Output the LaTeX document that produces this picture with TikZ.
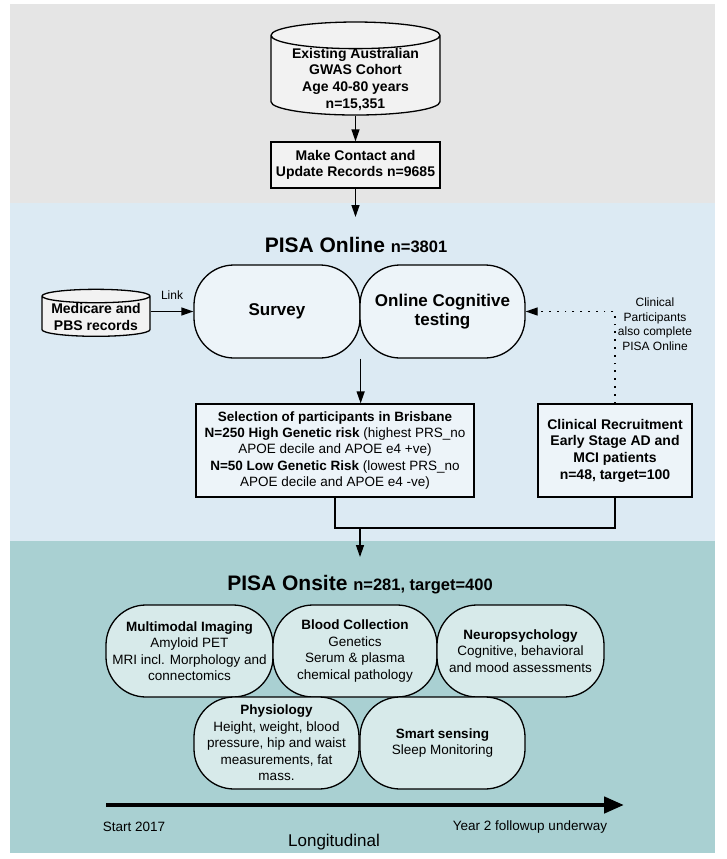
\documentclass[tikz,border=0pt]{standalone}
\usepackage{fontspec}
\setmainfont{Liberation Sans}
\usetikzlibrary{shapes.geometric,arrows.meta}

\definecolor{panelgray}{HTML}{E5E5E5}
\definecolor{nodegray}{HTML}{F2F2F2}
\definecolor{panelblue}{HTML}{DCEAF3}
\definecolor{nodeblue}{HTML}{EDF4F9}
\definecolor{panelteal}{HTML}{A9D0D2}
\definecolor{nodeteal}{HTML}{D7EAEA}

% text of a drum sits low, under the lid
\newcommand{\sunk}[2]{\raisebox{-#1}[0pt][0pt]{\begin{tabular}{@{}c@{}}#2\end{tabular}}}

\begin{document}
\begin{tikzpicture}[x=1pt,y=-1pt]
    \tikzstyle{box}=[rectangle,draw,line width=1.3pt,align=center,inner sep=0pt]
    \tikzstyle{drum}=[cylinder,shape border rotate=90,draw,line width=1.3pt,inner sep=0pt]
    \tikzstyle{blob}=[rectangle,rounded corners=40pt,draw,line width=1.3pt,align=center,inner sep=0pt]
    \tikzstyle{arr}=[line width=1.3pt,-{Triangle[length=12pt,width=8pt]}]
    \tikzstyle{big}=[font=\fontsize{14}{16.7}\selectfont\bfseries]
    \tikzstyle{mid}=[font=\fontsize{13.5}{16.5}\selectfont]
    \tikzstyle{small}=[font=\fontsize{12}{14.5}\selectfont]

   \useasboundingbox (0,0) rectangle (726,859);

   % the three stages
   \fill [panelgray] (10,4) rectangle (715,203);
   \fill [panelblue] (10,203) rectangle (715,541);
   \fill [panelteal] (10,541) rectangle (715,853);

   % cohort
   \node [drum,big,fill=nodegray,minimum width=169pt,minimum height=93pt,aspect=0.21] (gwas) at (355.5,75.5)
      {\sunk{8pt}{Existing Australian\\GWAS Cohort\\Age 40-80 years\\n=15,351}};
   \node [box,big,fill=nodegray,minimum width=169pt,minimum height=46pt] (contact) at (355.5,165)
      {Make Contact and\\Update Records n=9685};
   \coordinate (onlinein) at (355.5,217);

   \draw [arr] (gwas.south) -- (contact.north);
   \draw [arr] (contact.south) -- (onlinein);

   % PISA online
   \node (onlinetitle) at (356,245) {\fontsize{21}{24}\selectfont\bfseries PISA Online
      \fontsize{16.5}{20}\selectfont n=3801};
   \node [drum,big,fill=nodegray,minimum width=108pt,minimum height=47pt,aspect=0.15] (medicare) at (96,316.5)
      {\sunk{5.5pt}{Medicare and\\PBS records}};
   \node [blob,fill=nodeblue,minimum width=166pt,minimum height=93pt,font=\fontsize{17}{19}\selectfont\bfseries] (survey) at (277,311.5) {Survey};
   \node [blob,fill=nodeblue,minimum width=165pt,minimum height=93pt,font=\fontsize{17}{19}\selectfont\bfseries] (online) at (442.5,311.5)
      {Online Cognitive\\testing};

   \node [box,mid,fill=nodeblue,minimum width=278pt,minimum height=93pt] (sel) at (335,450.5)
      {\textbf{Selection of participants in Brisbane}\\
       \textbf{N=250 High Genetic risk} (highest PRS\_no\\
       APOE decile and APOE e4 +ve)\\
       \textbf{N=50 Low Genetic Risk} (lowest PRS\_no\\
       APOE decile and APOE e4 -ve)};
   \node [box,big,fill=nodeblue,minimum width=154pt,minimum height=93pt] (clin) at (615,450.5)
      {Clinical Recruitment\\Early Stage AD and\\MCI patients\\n=48, target=100};
   \node [small,align=center] (clinnote) at (655,324)
      {Clinical\\Participants\\also complete\\PISA Online};

   \draw [arr] (medicare.east |- survey.west) -- (survey.west)
      node [small,midway,above=8pt] {Link};
   \draw [arr] (survey.south east) -- (survey.south east |- sel.north);
   \draw [arr,dash pattern=on 1.8pt off 6pt] (clin.north) |- (online.east);

   \coordinate (join) at (360,528);
   \coordinate (onsitein) at (360,557);
   \draw [line width=1.3pt] (sel.south) |- (join) -| (clin.south);
   \draw [arr] (join) -- (onsitein);

   % PISA onsite
   \node (onsitetitle) at (360,585) {\fontsize{21}{24}\selectfont\bfseries PISA Onsite
      \fontsize{16.5}{20}\selectfont n=281, target=400};
   \node [blob,mid,fill=nodeteal,minimum width=167pt,minimum height=92pt] (imaging) at (189.5,651)
      {\textbf{Multimodal Imaging}\\Amyloid PET\\MRI incl. Morphology and\\connectomics};
   \node [blob,mid,fill=nodeteal,minimum width=164pt,minimum height=92pt] (blood) at (355,651)
      {\textbf{Blood Collection}\\Genetics\\Serum \& plasma\\chemical pathology};
   \node [blob,mid,fill=nodeteal,minimum width=167pt,minimum height=92pt] (neuro) at (520.5,651)
      {\textbf{Neuropsychology}\\Cognitive, behavioral\\and mood assessments};
   \node [blob,mid,fill=nodeteal,minimum width=165pt,minimum height=92pt] (physio) at (276.5,743)
      {\textbf{Physiology}\\Height, weight, blood\\pressure, hip and waist\\measurements, fat\\mass.};
   \node [blob,mid,fill=nodeteal,minimum width=165pt,minimum height=92pt] (smart) at (442.5,743)
      {\textbf{Smart sensing}\\Sleep Monitoring};

   % timeline
   \coordinate (tstart) at (106,805);
   \coordinate (tend) at (624,805);
   \draw [line width=4.5pt,-{Triangle[length=20pt,width=16pt]}] (tstart) -- (tend);
   \node [mid] (start) at (134,827) {Start 2017};
   \node [mid] (year2) at (530,827) {Year 2 followup underway};
   \node [font=\fontsize{17}{20}\selectfont] (longi) at (334,842) {Longitudinal};
\end{tikzpicture}
\end{document}
